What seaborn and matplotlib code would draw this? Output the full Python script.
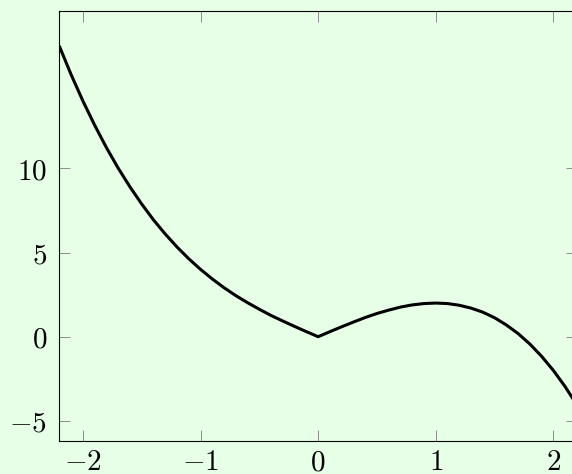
import numpy as np
import matplotlib
matplotlib.use("Agg")
import matplotlib.pyplot as plt
import seaborn as sns

# ---- data ----
x_vals = [-2.2, -2.1, -2.0, -1.9, -1.8, -1.7, -1.6, -1.5, -1.4, -1.3, -1.2,
          -1.1, -1.0, -0.9, -0.8, -0.7, -0.6, -0.5, -0.4, -0.3, -0.2, -0.1,
          0.0, 0.1, 0.2, 0.3, 0.4, 0.5, 0.6, 0.7, 0.8, 0.9, 1.0, 1.1,
          1.2, 1.3, 1.4, 1.5, 1.6, 1.7, 1.8, 1.9, 2.0, 2.1, 2.2]
y_vals = [17.25, 15.56, 14.00, 12.56, 11.23, 10.01, 8.90, 7.88, 6.94, 6.10, 5.33,
          4.63, 4.00, 3.43, 2.91, 2.44, 2.02, 1.63, 1.26, 0.93, 0.61, 0.30,
          0.00, 0.30, 0.59, 0.87, 1.14, 1.38, 1.58, 1.76, 1.89, 1.97, 2.00, 1.97,
          1.87, 1.70, 1.46, 1.13, 0.70, 0.19, -0.43, -1.16, -2.00, -2.96, -4.05]
x_ticks = [-2, -1, 0, 1, 2]
y_ticks = [-5, 0, 5, 10]
title_text = r'$f(x) = -x^3 + 3|x|$'

bg = '#e6ffe6'

sns.set_theme(style='ticks')
plt.rcParams['mathtext.fontset'] = 'cm'
plt.rcParams['font.family'] = ['DejaVu Serif']

fig = plt.figure(figsize=(5.72, 4.74), dpi=100, facecolor=bg)
# axes runs slightly past the right edge (picture is cropped there)
ax = fig.add_axes([0.1040, 0.0703, 0.9044, 0.9072])
ax.set_facecolor(bg)

sns.lineplot(x=x_vals, y=y_vals, color='black', linewidth=2.2, ax=ax)

ax.set_xlim(-2.2, 2.2)
ax.set_ylim(-6.18, 19.38)
ax.set_xticks(x_ticks)
ax.set_yticks(y_ticks)
ax.set_xticklabels([f'${v}$' for v in x_ticks])
ax.set_yticklabels([f'${v}$' for v in y_ticks])

ax.tick_params(axis='both', direction='in', length=8, width=0.7, color='#8c8c8c',
               labelsize=21, labelcolor='black', top=True, right=True)
ax.tick_params(axis='y', pad=9)
ax.tick_params(axis='x', pad=5.5)
for s in ax.spines.values():
    s.set_color('black')
    s.set_linewidth(0.8)
    s.set_visible(True)

# title sits almost entirely above the cropped top edge
ax.set_title(title_text, fontsize=21, pad=13.5)

fig.savefig('out.png', dpi=100, facecolor=bg)
